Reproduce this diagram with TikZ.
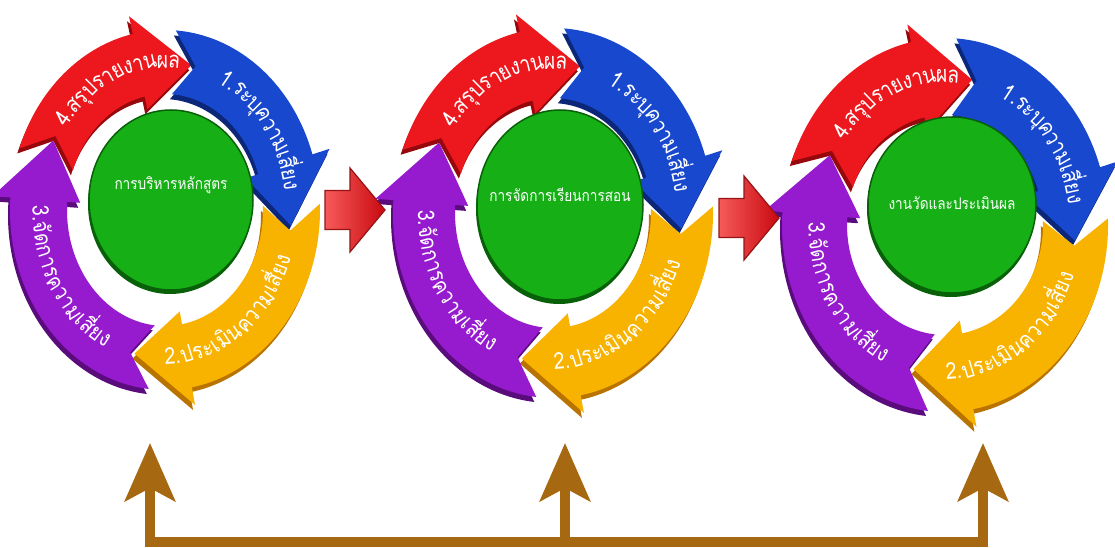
\documentclass[tikz,border=0pt]{standalone}
\usepackage{fontspec}
\newfontfamily\thai[Script=Thai, FakeStretch=0.85]{Loma}
\usetikzlibrary{decorations.text,shapes.geometric,arrows.meta}
\definecolor{cred}{RGB}{236,24,30}
\definecolor{cdred}{RGB}{150,8,12}
\definecolor{cblue}{RGB}{24,72,206}
\definecolor{cdblue}{RGB}{12,38,120}
\definecolor{corange}{RGB}{248,178,0}
\definecolor{cdorange}{RGB}{185,115,0}
\definecolor{cpurple}{RGB}{150,26,206}
\definecolor{cdpurple}{RGB}{90,12,125}
\definecolor{cgreen}{RGB}{22,176,22}
\definecolor{cdgreen}{RGB}{8,96,8}
\definecolor{cbrown}{RGB}{166,104,16}
\definecolor{bltop}{RGB}{246,90,90}
\definecolor{blbot}{RGB}{200,10,16}
\definecolor{bledge}{RGB}{150,20,20}
% elliptical point: angle, x radius, y radius
\newcommand\EP[3]{({(#2)*cos(#1)},{(#3)*sin(#1)})}
% #1 tail angle, #2 tip angle, #3 Rx, #4 Ry, #5 rx, #6 ry, #7 fill, #8 dark
\newcommand\RingArrow[8]{%
  \pgfmathsetmacro\Mx{(#3+#5)/2}\pgfmathsetmacro\My{(#4+#6)/2}%
  \pgfmathsetmacro\Nk{#2+24}\pgfmathsetmacro\Nt{#1-10}%
  \pgfmathsetmacro\Wx{#3+18}\pgfmathsetmacro\Wy{#4+18}%
  \pgfmathsetmacro\wx{#5-13}\pgfmathsetmacro\wy{#6-13}%
  \edef\RApath{\EP{#1}{#3}{#4} arc[start angle=#1, end angle=\Nk, x radius=#3, y radius=#4]
     -- \EP{\Nk}{\Wx}{\Wy} -- \EP{#2}{\Mx}{\My} -- \EP{\Nk}{\wx}{\wy}
     -- \EP{\Nk}{#5}{#6} arc[start angle=\Nk, end angle=#1, x radius=#5, y radius=#6]
     -- \EP{\Nt}{\Mx}{\My} -- cycle}%
  \fill[#8, shift={(-2,-5)}] \RApath;
  \fill[#7] \RApath;
}
\newcommand\BlockArrowPath{(0,-19.5) -- (25,-19.5) -- (25,-42) -- (60,0) -- (25,42) -- (25,19.5) -- (0,19.5) -- cycle}
\tikzset{
  arctext/.style={decorate, decoration={text along path, text align=center,
      text color=white, raise=-6pt, text={|\thai\fontsize{23}{23}\selectfont|#1}}},
  hub/.style={ellipse, fill=cgreen, draw=cdgreen, line width=1.5pt, inner sep=0pt},
  hubtext/.style={text=white, inner sep=0pt, font=\thai\fontsize{16}{16}\selectfont},
  blockarrow/.style={left color=bltop, right color=blbot, draw=bledge, line width=1.2pt, line join=miter},
  feedback/.style={cbrown, line width=10pt, -{Stealth[length=58pt, width=50pt, inset=13pt]}},
  busline/.style={cbrown, line width=10pt},
}
\begin{document}
\begin{tikzpicture}[x=1pt,y=1pt]
\fill[white] (0,0) rectangle (1115,547);
\useasboundingbox (0,0) rectangle (1115,547);
\foreach \cx/\cy/\Rx/\Ry/\rx/\ry/\gx/\gy/\grx/\gry/\ly/\lab/\i in {
  165/337/155/180/98/116/171/347/82/90/362/การบริหารหลักสูตร/1,
  553/334/160/185/98/115/560/342/83/95/352/การจัดการเรียนการสอน/2,
  945/322/163/187/98/110/952/342/84/88/344/งานวัดและประเมินผล/3}{
  \begin{scope}[shift={(\cx,\cy)}]
    \RingArrow{160}{78}{\Rx}{\Ry}{\rx}{\ry}{cred}{cdred}
    \RingArrow{86}{-6}{\Rx}{\Ry}{\rx}{\ry}{cblue}{cdblue}
    \RingArrow{2}{-104}{\Rx}{\Ry}{\rx}{\ry}{corange}{cdorange}
    \RingArrow{-96}{-208}{\Rx}{\Ry}{\rx}{\ry}{cpurple}{cdpurple}
    \pgfmathsetmacro\Mx{(\Rx+\rx)/2}\pgfmathsetmacro\My{(\Ry+\ry)/2}
    \path[arctext={{4.}{สรุป}{ราย}{งาน}{ผล}}] \EP{160}{\Mx}{\My} arc[start angle=160, end angle=66, x radius=\Mx, y radius=\My];
    \path[arctext={{1.}{ระบุ}{ความ}{เสี่ยง}}] \EP{84}{\Mx}{\My} arc[start angle=84, end angle=-10, x radius=\Mx, y radius=\My];
    \path[arctext={{2.}{ประ}{เมิน}{ความ}{เสี่ยง}}] \EP{-104}{\Mx}{\My} arc[start angle=-104, end angle=-6, x radius=\Mx, y radius=\My];
    \path[arctext={{3.}{จัด}{การ}{ความ}{เสี่ยง}}] \EP{164}{\Mx}{\My} arc[start angle=164, end angle=260, x radius=\Mx, y radius=\My];
  \end{scope}
  \fill[cdgreen] (\gx-1,\gy-4) ellipse[x radius=\grx, y radius=\gry];
  \node[hub, minimum width=2*\grx, minimum height=2*\gry] (g\i) at (\gx,\gy) {};
  \node[hubtext] (l\i) at (\gx,\ly) {\lab};
}
\fill[blockarrow, shift={(325,337)}] \BlockArrowPath;
\fill[blockarrow, shift={(719,329)}] \BlockArrowPath;
\coordinate (b1) at (150,0);
\coordinate (b2) at (565,0);
\coordinate (b3) at (983,0);
\coordinate (t1) at (150,104);
\coordinate (t2) at (565,104);
\coordinate (t3) at (983,104);
\coordinate (h1) at (145,5);
\coordinate (h2) at (988,5);
\draw[busline] (h1) -- (h2);
\draw[feedback] (b1) -- (t1);
\draw[feedback] (b2) -- (t2);
\draw[feedback] (b3) -- (t3);
\end{tikzpicture}
\end{document}
